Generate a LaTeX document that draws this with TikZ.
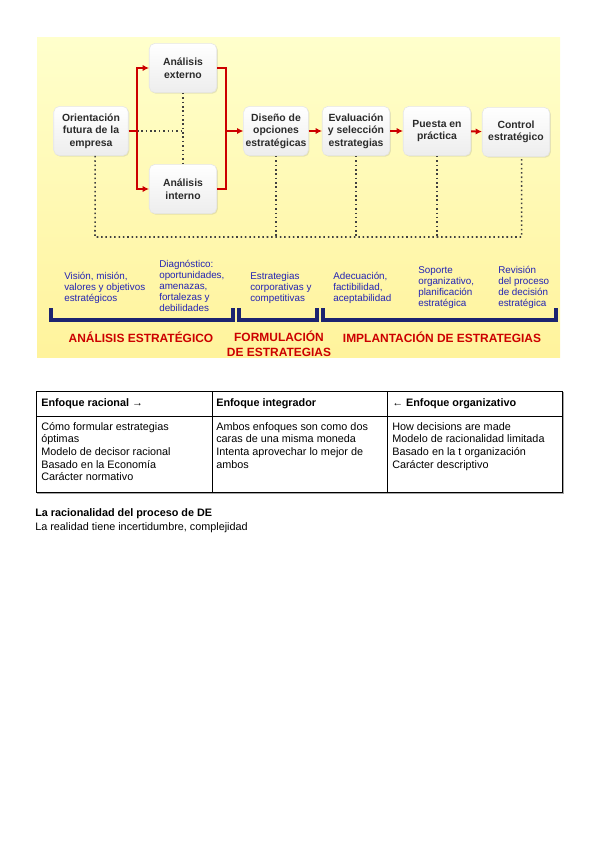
\documentclass[tikz,border=0pt]{standalone}
\usepackage{fontspec}
\setmainfont{Liberation Sans}
\usetikzlibrary{arrows.meta,calc,shadows}
\definecolor{fondoarriba}{HTML}{FFFFCC}
\definecolor{fondoabajo}{HTML}{FFF39C}
\definecolor{rojo}{HTML}{CC0000}
\definecolor{azul}{HTML}{2323B4}
\definecolor{marino}{HTML}{1C2470}
\definecolor{textocaja}{HTML}{2B2B2B}
\tikzset{
  caja/.style={rectangle, rounded corners=4pt, draw=gray!20, top color=white, bottom color=gray!14,
    drop shadow={opacity=0.2, shadow xshift=0.8pt, shadow yshift=-0.8pt},
    minimum width=48pt, minimum height=35pt, align=center, inner sep=1pt, text=textocaja,
    font=\fontsize{7.4}{8.9}\selectfont\bfseries},
  rojoline/.style={draw=rojo, line width=1.4pt},
  rojoflecha/.style={rojoline, -{Latex[length=4.5pt,width=4.5pt]}},
  punteado/.style={draw=gray!50!black, dotted, line width=1.1pt},
  notaazul/.style={anchor=north west, align=left, text=azul, inner sep=0pt,
    font=\fontsize{7}{7.9}\selectfont},
  titulorojo/.style={text=rojo, inner sep=0pt, align=center,
    font=\fontsize{8.5}{10.6}\selectfont\bfseries},
  llave/.style={draw=marino, line width=2.2pt},
  celda/.style={anchor=north west, align=left, inner sep=0pt,
    font=\fontsize{7.7}{9}\selectfont}
}
\begin{document}
\begin{tikzpicture}[x=0.025cm, y=-0.025cm]
  \useasboundingbox (0,0) rectangle (600,848);
  \shade[top color=fondoarriba, bottom color=fondoabajo] (37,37) rectangle (560,357);

  \node[caja, minimum width=53pt] (orient) at (91,131) {Orientación\\futura de la\\empresa};
  \node[caja] (externo) at (183,68) {Análisis\\externo};
  \node[caja] (interno) at (183,189) {Análisis\\interno};
  \node[caja, minimum width=46pt] (diseno) at (276,131) {Diseño de\\opciones\\estratégicas};
  \node[caja] (evalua) at (356,131) {Evaluación\\y selección\\estrategias};
  \node[caja] (puesta) at (437,131) {Puesta en\\práctica};
  \node[caja] (control) at (516,132) {Control\\estratégico};

  \coordinate (tronco) at (137,131);
  \coordinate (colector) at (226,131);
  \coordinate (base) at (95,237);
  \draw[punteado] (tronco) -- (externo.south |- tronco);
  \draw[punteado] (externo.south) -- (interno.north);
  \draw[punteado] ([xshift=3pt]orient.south) -- (base) -| ([xshift=4pt]control.south);
  \foreach \n in {diseno, evalua, puesta}
    \draw[punteado] (\n.south) -- (\n.south |- base);

  \draw[rojoline] (orient.east) -- (tronco);
  \draw[rojoflecha] (tronco) |- (externo.west);
  \draw[rojoflecha] (tronco) |- (interno.west);
  \draw[rojoline] (externo.east) -| (colector) |- (interno.east);
  \draw[rojoflecha] (colector) -- (diseno.west);
  \draw[rojoflecha] (diseno) -- (evalua);
  \draw[rojoflecha] (evalua) -- (puesta);
  \draw[rojoflecha] (puesta) -- (control);

  \node[notaazul] (vision) at (64,272) {Visión, misión,\\valores y objetivos\\estratégicos};
  \node[notaazul] (diagnostico) at (159,260) {Diagnóstico:\\oportunidades,\\amenazas,\\fortalezas y\\debilidades};
  \node[notaazul] (corporativas) at (250,272) {Estrategias\\corporativas y\\competitivas};
  \node[notaazul] (adecuacion) at (333,272) {Adecuación,\\factibilidad,\\aceptabilidad};
  \node[notaazul] (soporte) at (418,266) {Soporte\\organizativo,\\planificación\\estratégica};
  \node[notaazul] (revision) at (498,266) {Revisión\\del proceso\\de decisión\\estratégica};

  \draw[llave] (51,308) -- (51,320) -- (233,320) -- (233,308);
  \draw[llave] (239,308) -- (239,320) -- (317,320) -- (317,308);
  \draw[llave] (323,308) -- (323,320) -- (556,320) -- (556,308);

  \node[titulorojo] (analisis) at (141,337) {ANÁLISIS ESTRATÉGICO};
  \node[titulorojo, anchor=north] (formulacion) at (279,331) {FORMULACIÓN\\DE ESTRATEGIAS};
  \node[titulorojo] (implantacion) at (442,337) {IMPLANTACIÓN DE ESTRATEGIAS};

  \draw[gray!70, line width=1.2pt] (37,493) -- (563,493) -- (563,392);
  \draw[black, line width=0.6pt] (36,391) rectangle (562,492);
  \draw[black, line width=0.6pt] (36,416) -- (562,416);
  \draw[black, line width=0.6pt] (212,391) -- (212,492);
  \draw[black, line width=0.6pt] (387,391) -- (387,492);

  \node[celda, font=\fontsize{7.7}{9}\selectfont\bfseries, anchor=west] (racional) at (41,404) {Enfoque racional →};
  \node[celda, font=\fontsize{7.7}{9}\selectfont\bfseries, anchor=west] (integrador) at (216,404) {Enfoque integrador};
  \node[celda, font=\fontsize{7.7}{9}\selectfont\bfseries, anchor=west] (organizativo) at (392,404) {← Enfoque organizativo};

  \node[celda] (racionaltxt) at (41,422) {Cómo formular estrategias\\óptimas\\Modelo de decisor racional\\Basado en la Economía\\Carácter normativo};
  \node[celda] (integradortxt) at (216,422) {Ambos enfoques son como dos\\caras de una misma moneda\\Intenta aprovechar lo mejor de\\ambos};
  \node[celda] (organizativotxt) at (392,422) {How decisions are made\\Modelo de racionalidad limitada\\Basado en la t organización\\Carácter descriptivo};

  \node[celda, font=\fontsize{7.7}{9}\selectfont\bfseries] (titulo) at (35,508) {La racionalidad del proceso de DE};
  \node[celda] (realidad) at (35,522) {La realidad tiene incertidumbre, complejidad};
\end{tikzpicture}
\end{document}
